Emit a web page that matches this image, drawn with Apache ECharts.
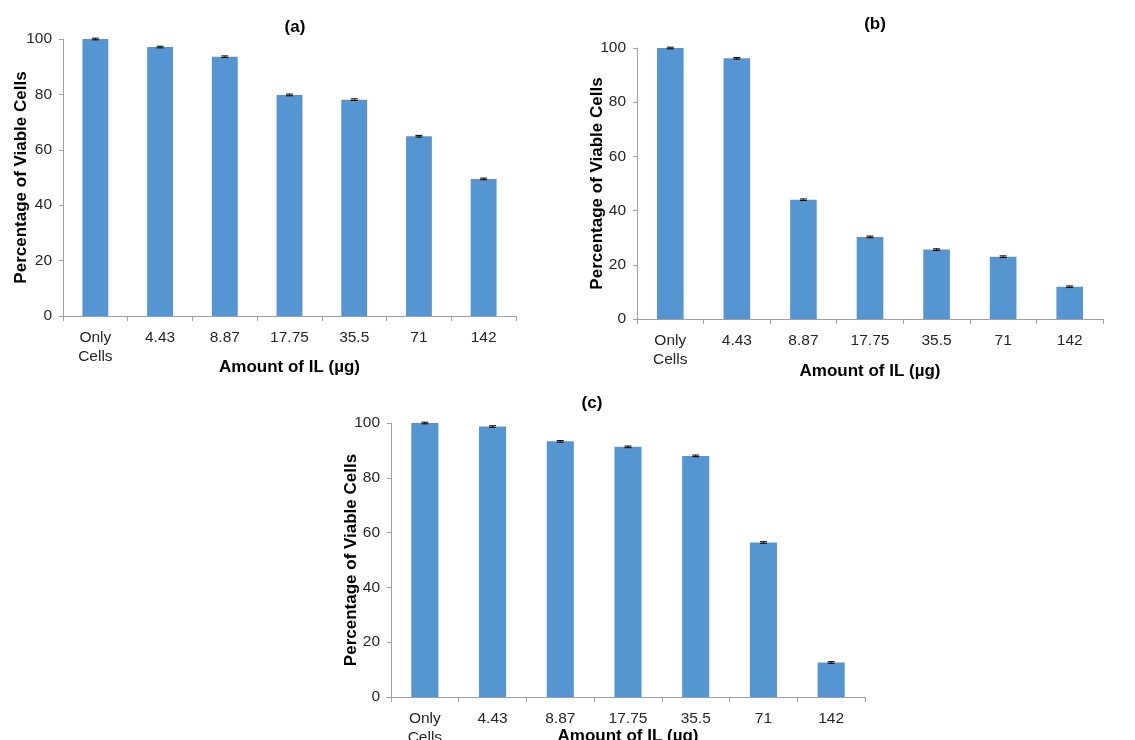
<!DOCTYPE html>
<html><head><meta charset="utf-8">
<script src="https://cdn.jsdelivr.net/npm/echarts@6/dist/echarts.min.js"></script>
<style>html,body{margin:0;padding:0;background:#fff}#c{width:1135px;height:740px}</style>
</head><body><div id="c"></div>
<script>
const categories = ['Only\nCells', '4.43', '8.87', '17.75', '35.5', '71', '142'];
const yTicks = [0, 20, 40, 60, 80, 100];
const valuesA = [100, 97.1, 93.6, 79.8, 78.1, 64.9, 49.5];
const valuesB = [100, 96.2, 44.0, 30.3, 25.6, 23.0, 11.9];
const valuesC = [100, 98.7, 93.3, 91.3, 88.0, 56.4, 12.6];
const errorsA = [0.3, 0.3, 0.3, 0.3, 0.3, 0.3, 0.3];
const errorsB = [0.3, 0.3, 0.3, 0.3, 0.3, 0.3, 0.3];
const errorsC = [0.3, 0.3, 0.3, 0.3, 0.3, 0.3, 0.3];
const panelTitles = ['(a)', '(b)', '(c)'];
const xName = 'Amount of IL (\u00b5g)';
const yName = 'Percentage of Viable Cells';

const FONT = '"Liberation Sans", Arial, sans-serif';
const BAR = '#5596D2';
const AXIS = '#A0A0A0';
const TXT = '#262626';

const grids = [
  {left: 63, top: 39, width: 453, height: 277, outerBoundsMode: 'none', containLabel: false},
  {left: 637, top: 48, width: 466, height: 271, outerBoundsMode: 'none', containLabel: false},
  {left: 391, top: 423, width: 474, height: 274, outerBoundsMode: 'none', containLabel: false}
];
const yNameGaps = [33, 31, 31];
const xNameGaps = [43, 44, 31];
const titlePos = [{left: 290, top: 14}, {left: 870, top: 11}, {left: 587, top: 390}];

const panels = [[valuesA, errorsA], [valuesB, errorsB], [valuesC, errorsC]];

const xAxes = grids.map((g, i) => ({
  type: 'category', gridIndex: i, data: categories,
  axisLine: {lineStyle: {color: AXIS, width: 1}},
  axisTick: {show: true, length: 5, lineStyle: {color: AXIS}},
  axisLabel: {fontFamily: FONT, fontSize: 15.5, color: TXT, margin: 12, lineHeight: 19, interval: 0},
  name: xName, nameLocation: 'middle', nameGap: xNameGaps[i], nameMoveOverlap: false,
  nameTextStyle: {fontFamily: FONT, fontSize: 17, fontWeight: 'bold', color: '#000'}
}));
const yAxes = grids.map((g, i) => ({
  type: 'value', gridIndex: i, min: yTicks[0], max: yTicks[yTicks.length - 1], interval: yTicks[1] - yTicks[0],
  axisLine: {show: true, lineStyle: {color: AXIS, width: 1}},
  axisTick: {show: true, length: 4, lineStyle: {color: AXIS}},
  splitLine: {show: false},
  axisLabel: {fontFamily: FONT, fontSize: 15.5, color: TXT, margin: 11},
  name: yName, nameLocation: 'middle', nameGap: yNameGaps[i], nameRotate: 90, nameMoveOverlap: false,
  nameTextStyle: {fontFamily: FONT, fontSize: 17, fontWeight: 'bold', color: '#000'}
}));

const series = [];
panels.forEach(([vals, errs], i) => {
  series.push({
    type: 'bar', xAxisIndex: i, yAxisIndex: i, data: vals, barWidth: '40%',
    itemStyle: {color: BAR}, silent: true
  });
  series.push({
    type: 'custom', xAxisIndex: i, yAxisIndex: i,
    data: vals.map((v, k) => [k, v, errs[k]]),
    renderItem: function (params, api) {
      const x = api.value(0), v = api.value(1), e = api.value(2);
      const hi = api.coord([x, v + e]);
      const lo = api.coord([x, v - e]);
      const w = 3.5;
      const st = {stroke: '#000', lineWidth: 1};
      return {type: 'group', children: [
        {type: 'line', shape: {x1: hi[0], y1: hi[1], x2: lo[0], y2: lo[1]}, style: st},
        {type: 'line', shape: {x1: hi[0] - w, y1: hi[1], x2: hi[0] + w, y2: hi[1]}, style: st},
        {type: 'line', shape: {x1: lo[0] - w, y1: lo[1], x2: lo[0] + w, y2: lo[1]}, style: st}
      ]};
    },
    z: 5, silent: true
  });
});

const chart = echarts.init(document.getElementById('c'), null, {renderer: 'canvas'});
chart.setOption({
  animation: false,
  backgroundColor: '#fff',
  title: panelTitles.map((t, i) => ({
    text: t, left: titlePos[i].left, top: titlePos[i].top, textAlign: 'center',
    textStyle: {fontFamily: FONT, fontSize: 17, fontWeight: 'bold', color: '#000'}
  })),
  grid: grids,
  xAxis: xAxes,
  yAxis: yAxes,
  series: series
});
</script></body></html>
